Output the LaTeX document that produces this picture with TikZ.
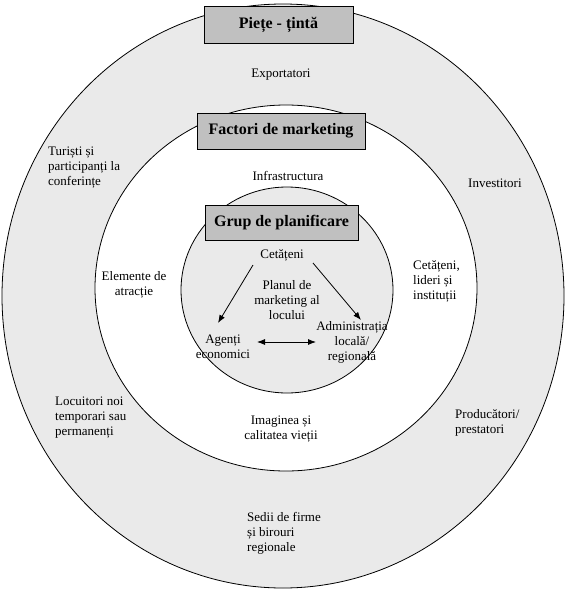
\documentclass[tikz,border=0pt]{standalone}
\usepackage{fontspec}
\setmainfont{Liberation Serif}
\usetikzlibrary{arrows.meta}
\definecolor{ringgray}{RGB}{234,234,234}
\definecolor{boxgray}{RGB}{192,192,192}
\tikzset{
  ring/.style  = {draw=black, fill=ringgray, line width=0.8pt},
  hole/.style  = {draw=black, fill=white, line width=0.8pt},
  ttl/.style   = {draw=black, fill=boxgray, line width=0.8pt, inner sep=0pt,
                  font=\fontsize{16}{18}\selectfont\bfseries},
  lbl/.style   = {inner sep=0pt, font=\fontsize{13}{15}\selectfont},
  lbll/.style  = {lbl, align=left, anchor=west},
  lblc/.style  = {lbl, align=center},
  fl/.style    = {-{Latex[length=8pt, width=6pt]}, line width=0.8pt},
}

\begin{document}
\begin{tikzpicture}[x=1pt, y=-1pt]
\useasboundingbox (0,0) rectangle (577,590);
% rings
\draw[ring] (283,296) ellipse [x radius=281, y radius=292];
\draw[hole] (286,288) ellipse [x radius=191, y radius=183];
\draw[ring] (287,290) ellipse [x radius=106, y radius=103];

% titles
\node[ttl, minimum width=149pt, minimum height=37pt] (piete)   at (278.5,24.5) {Piețe - țintă};
\node[ttl, minimum width=168pt, minimum height=36pt] (factori) at (281,131)    {Factori de marketing};
\node[ttl, minimum width=153pt, minimum height=35pt] (grup)    at (281.5,222.5) {Grup de planificare};

% outer ring
\node[lblc] (export)  at (281,75)  {Exportatori};
\node[lbll] (turisti) at (48,168)  {Turiști și\\participanți la\\conferințe};
\node[lbll] (invest)  at (468,183) {Investitori};
\node[lbll] (locuit)  at (55,418)  {Locuitori noi\\temporari sau\\permanenți};
\node[lbll] (produc)  at (455,423) {Producători/\\prestatori};
\node[lbll] (sedii)   at (247,533) {Sedii de firme\\și birouri\\regionale};

% middle ring
\node[lblc] (infra)   at (288,176) {Infrastructura};
\node[lblc] (elem)    at (134,285) {Elemente de\\atracție};
\node[lbll] (lideri)  at (413,281) {Cetățeni,\\lideri și\\instituții};
\node[lblc] (imag)    at (281,429) {Imaginea și\\calitatea vieții};

% inner circle
\node[lblc] (cet)     at (282,255) {Cetățeni};
\node[lblc] (plan)    at (287,300) {Planul de\\marketing al\\locului};
\node[lblc] (agenti)  at (223,347) {Agenți\\economici};
\node[lblc] (admin)   at (352,342) {Administrația\\locală/\\regională};

\draw[fl] (253,265) -- (218,323);
\draw[fl] (313,263) -- (361,320);
\draw[fl, {Latex[length=8pt, width=6pt]}-{Latex[length=8pt, width=6pt]}] (257,342) -- (316,342);
\end{tikzpicture}
\end{document}
